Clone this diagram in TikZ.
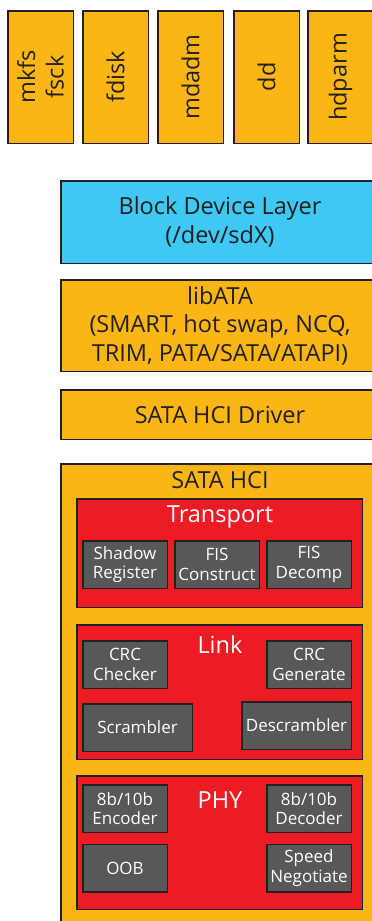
\documentclass[tikz,border=0pt]{standalone}
\usepackage{fontspec}
\setmainfont{Open Sans}
\definecolor{amber}{HTML}{FBB616}
\definecolor{skyblue}{HTML}{40C8F4}
\definecolor{hwred}{HTML}{ED1C24}
\definecolor{blockgray}{HTML}{58585A}
\definecolor{edge}{HTML}{231F20}
\tikzset{
  box/.style={draw=edge, line width=1.5pt, rectangle, inner sep=0pt, align=center},
  bigtxt/.style={font=\fontsize{23.5}{28.5}\selectfont},
  smalltxt/.style={font=\fontsize{17}{19.5}\selectfont},
  toolbox/.style={box, fill=amber, text=edge, bigtxt, minimum width=65.5pt, minimum height=132.5pt},
  layerbox/.style={box, text=edge, bigtxt, minimum width=318.5pt},
  unitbox/.style={box, fill=hwred, minimum width=285.5pt},
  partbox/.style={box, fill=blockgray, text=white, smalltxt, minimum height=47.5pt},
  title/.style={inner sep=0pt, bigtxt},
}
\begin{document}
\begin{tikzpicture}[x=1pt,y=-1pt]
\useasboundingbox (0,0) rectangle (372,921);
\clip (0,0) rectangle (372,921);
% user-space tools
\node[toolbox] (mkfs) at (40.5,77) {};
\node[bigtxt, rotate=90, align=center, text=edge] (mkfstxt) at (mkfs.center) {mkfs\\fsck};
\node[toolbox] (fdisk) at (115.5,77) {};
\node[bigtxt, rotate=90, text=edge] (fdisktxt) at (fdisk.center) {fdisk};
\node[toolbox] (mdadm) at (190.5,77) {};
\node[bigtxt, rotate=90, text=edge] (mdadmtxt) at (mdadm.center) {mdadm};
\node[toolbox] (dd) at (266.5,77) {};
\node[bigtxt, rotate=90, text=edge] (ddtxt) at (dd.center) {dd};
\node[toolbox] (hdparm) at (340.5,77) {};
\node[bigtxt, rotate=90, text=edge] (hdparmtxt) at (hdparm.center) {hdparm};
% kernel layers
\node[layerbox, fill=skyblue, minimum height=82.5pt] (block) at (220,222) {Block Device Layer\\(/dev/sdX)};
\node[layerbox, fill=amber, minimum height=91.5pt] (libata) at (220,325.5) {libATA\\(SMART, hot swap, NCQ,\\TRIM, PATA/SATA/ATAPI)};
\node[layerbox, fill=amber, minimum height=49.5pt] (driver) at (220,414.5) {SATA HCI Driver};
% controller
\node[layerbox, fill=amber, minimum height=470.5pt] (hci) at (220,699) {};
\node[title, text=edge] (hcititle) at (220,480) {SATA HCI};
% transport layer
\node[unitbox, minimum height=108.5pt] (transport) at (219.5,553) {};
\node[title, text=white] (transporttitle) at (220,517) {Transport};
\node[partbox, minimum width=84.5pt] (shadow) at (125,564.5) {Shadow\\Register};
\node[partbox, minimum width=84.5pt] (construct) at (217,564.5) {FIS\\Construct};
\node[partbox, minimum width=84.5pt] (decomp) at (309,564.5) {FIS\\Decomp};
% link layer
\node[unitbox, minimum height=134.5pt] (link) at (219.5,692) {};
\node[title, text=white] (linktitle) at (220,645) {Link};
\node[partbox, minimum width=84.5pt] (crcchk) at (125,664.5) {CRC\\Checker};
\node[partbox, minimum width=84.5pt] (crcgen) at (309,664.5) {CRC\\Generate};
\node[partbox, minimum width=109.5pt] (scram) at (137.5,727.5) {Scrambler};
\node[partbox, minimum width=109.5pt] (descram) at (296.5,725.5) {Descrambler};
% physical layer
\node[unitbox, minimum height=133.5pt] (phy) at (219.5,842.5) {};
\node[title, text=white] (phytitle) at (220,800) {PHY};
\node[partbox, minimum width=84.5pt] (enc) at (125,808.5) {8b/10b\\Encoder};
\node[partbox, minimum width=84.5pt] (dec) at (309,808.5) {8b/10b\\Decoder};
\node[partbox, minimum width=84.5pt] (oob) at (125,868) {OOB};
\node[partbox, minimum width=84.5pt] (speed) at (309,868) {Speed\\Negotiate};
\end{tikzpicture}
\end{document}
